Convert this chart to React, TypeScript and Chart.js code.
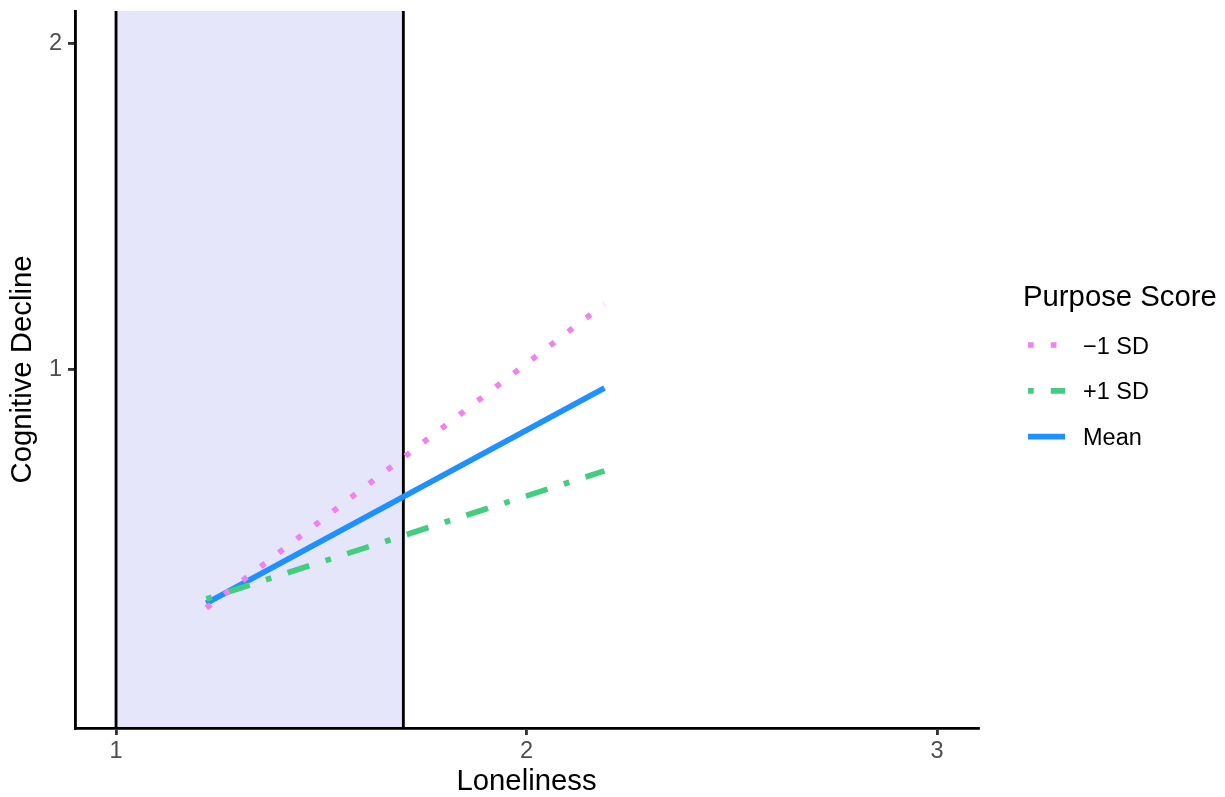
import { useEffect, useRef } from "react";
import { Chart, registerables } from "chart.js";

Chart.register(...registerables);

// Loneliness values at which each simple slope is evaluated
const loneliness = [1.22, 2.19];
// Predicted cognitive decline for each level of purpose
const declineLowPurpose = [0.268, 1.201]; // −1 SD
const declineHighPurpose = [0.296, 0.689]; // +1 SD
const declineMeanPurpose = [0.283, 0.943]; // Mean
const seriesLabels = ["\u22121 SD", "+1 SD", "Mean"];
// Region of significance along the loneliness axis
const regionBounds = [1, 1.7];
const xTickValues = [1, 2, 3];
const yTickValues = [1, 2];

const FONT = '"Liberation Sans", Arial, Helvetica, sans-serif';
const LW = 5.69;
const seriesStyles = [
  { color: "#EE82EE", dash: [LW, 3 * LW] },
  { color: "#43CD80", dash: [LW, 3 * LW, 4 * LW, 3 * LW] },
  { color: "#1E90FF", dash: [] as number[] },
];
const seriesValues = [declineLowPurpose, declineHighPurpose, declineMeanPurpose];

const regionPlugin = {
  id: "regionOfSignificance",
  beforeDraw(chart: any) {
    const { ctx, chartArea, scales } = chart;
    const x0 = scales.x.getPixelForValue(regionBounds[0]);
    const x1 = scales.x.getPixelForValue(regionBounds[1]);
    ctx.save();
    ctx.fillStyle = "#E6E6FA";
    ctx.fillRect(x0, chartArea.top, x1 - x0, chartArea.bottom - chartArea.top);
    ctx.strokeStyle = "#000000";
    ctx.lineWidth = 2.85;
    for (const xv of regionBounds) {
      const px = scales.x.getPixelForValue(xv);
      ctx.beginPath();
      ctx.moveTo(px, chartArea.top);
      ctx.lineTo(px, chartArea.bottom);
      ctx.stroke();
    }
    ctx.restore();
  },
};

const legendPlugin = {
  id: "purposeLegend",
  afterDraw(chart: any) {
    const { ctx } = chart;
    ctx.save();
    ctx.textBaseline = "alphabetic";
    ctx.textAlign = "left";
    ctx.fillStyle = "#000000";
    ctx.font = `29.3px ${FONT}`;
    ctx.fillText("Purpose Score", 1023, 305.5);
    ctx.font = `23.5px ${FONT}`;
    seriesLabels.forEach((label, i) => {
      const y = 345 + i * 45.8;
      const st = seriesStyles[i];
      ctx.beginPath();
      ctx.setLineDash(st.dash);
      ctx.lineCap = "butt";
      ctx.strokeStyle = st.color;
      ctx.lineWidth = LW;
      ctx.moveTo(1028, y);
      ctx.lineTo(1065, y);
      ctx.stroke();
      ctx.setLineDash([]);
      ctx.fillStyle = "#000000";
      ctx.fillText(label, 1083, y + 8.5);
    });
    ctx.restore();
  },
};

export default function App() {
  const canvasRef = useRef<HTMLCanvasElement>(null);

  useEffect(() => {
    const canvas = canvasRef.current;
    if (!canvas) return;
    const chart = new Chart(canvas, {
      type: "line",
      data: {
        datasets: seriesLabels.map((label, i) => ({
          label,
          data: loneliness.map((x, j) => ({ x, y: seriesValues[i][j] })),
          borderColor: seriesStyles[i].color,
          borderDash: seriesStyles[i].dash,
          borderWidth: LW,
          borderCapStyle: "butt",
          borderJoinStyle: "round",
          pointRadius: 0,
          tension: 0,
          fill: false,
        })),
      },
      options: {
        animation: false,
        responsive: false,
        devicePixelRatio: 1,
        layout: { padding: { top: 11, right: 247, left: 0, bottom: 0 } },
        plugins: { legend: { display: false }, tooltip: { enabled: false } },
        scales: {
          x: {
            type: "linear",
            min: 0.9,
            max: 3.1,
            afterBuildTicks: (s: any) => {
              s.ticks = xTickValues.map((v) => ({ value: v }));
            },
            afterFit: (s: any) => {
              s.height = 69;
              s.paddingLeft = 0;
              s.paddingRight = 0;
            },
            ticks: {
              font: { size: 23.5, family: FONT },
              color: "#4D4D4D",
              padding: 2,
              maxRotation: 0,
              autoSkip: false,
              callback: (v: any) => String(v),
            },
            grid: {
              drawOnChartArea: false,
              drawTicks: true,
              tickLength: 7,
              color: "#333333",
              lineWidth: 2.85,
            },
            border: { display: true, color: "#000000", width: 2.85 },
            title: {
              display: true,
              text: "Loneliness",
              color: "#000000",
              font: { size: 29.3, family: FONT, lineHeight: 1 },
              padding: { top: 0, bottom: 0 },
            },
          },
          y: {
            type: "linear",
            min: -0.1,
            max: 2.1,
            afterBuildTicks: (s: any) => {
              s.ticks = yTickValues.map((v) => ({ value: v }));
            },
            afterFit: (s: any) => {
              s.width = 75;
              s.paddingTop = 0;
              s.paddingBottom = 0;
            },
            ticks: {
              font: { size: 23.5, family: FONT },
              color: "#4D4D4D",
              padding: 6,
              callback: (v: any) => String(v),
            },
            grid: {
              drawOnChartArea: false,
              drawTicks: true,
              tickLength: 7,
              color: "#333333",
              lineWidth: 2.85,
            },
            border: { display: true, color: "#000000", width: 2.85 },
            title: {
              display: true,
              text: "Cognitive Decline",
              color: "#000000",
              font: { size: 29.3, family: FONT, lineHeight: 1 },
              padding: { top: 8.5, bottom: 0 },
            },
          },
        },
      },
      plugins: [regionPlugin, legendPlugin],
    });
    return () => chart.destroy();
  }, []);

  return (
    <div style={{ position: "fixed", left: 0, top: 0, width: 1225, height: 797, background: "#FFFFFF" }}>
      <canvas ref={canvasRef} width={1225} height={797} style={{ width: 1225, height: 797, display: "block" }} />
    </div>
  );
}
